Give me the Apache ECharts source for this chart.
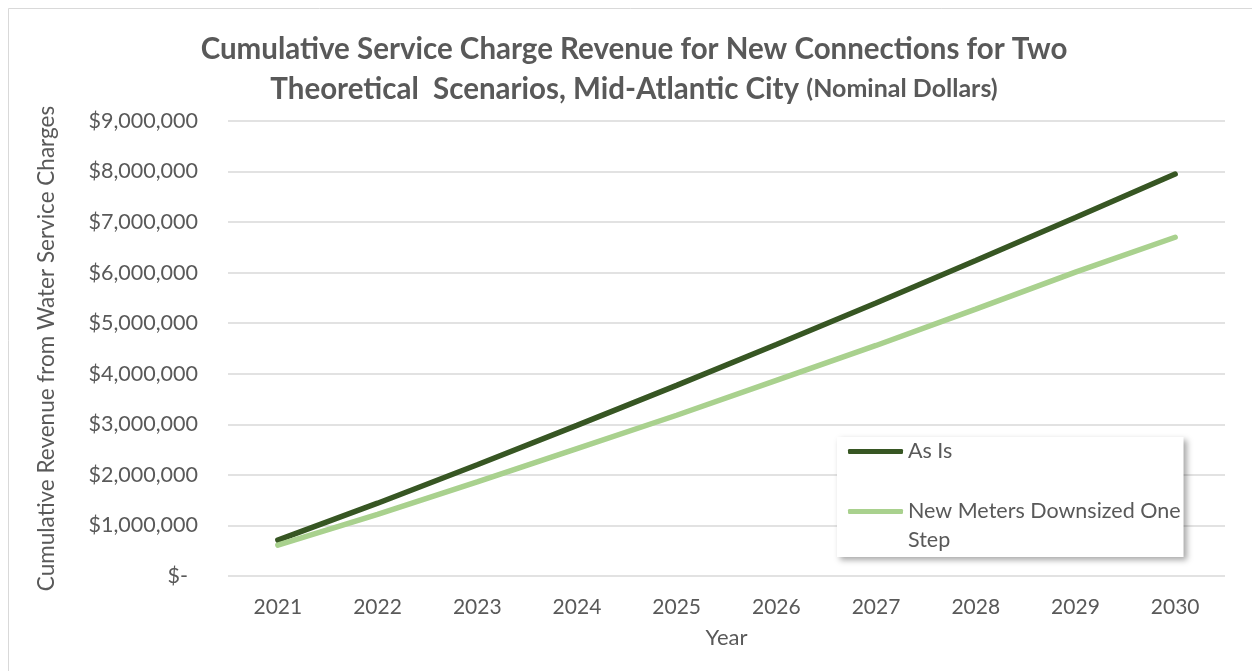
<!DOCTYPE html>
<html>
<head>
<meta charset="utf-8">
<script src="https://cdn.jsdelivr.net/npm/echarts@6/dist/echarts.min.js"></script>
<style>html,body{margin:0;padding:0;background:#fff}#c{width:1252px;height:671px}</style>
</head>
<body>
<div id="c"></div>
<script>
const years = ['2021','2022','2023','2024','2025','2026','2027','2028','2029','2030'];
const asIs = [710000,1440000,2200000,2980000,3770000,4580000,5400000,6240000,7090000,7950000];
const downsized = [610000,1220000,1860000,2520000,3180000,3870000,4560000,5280000,6010000,6700000];
const seriesNames = ['As Is','New Meters Downsized One Step'];

const FONT = 'Lato, "Open Sans", sans-serif';
const TXT = '#595959';
const chart = echarts.init(document.getElementById('c'), null, {renderer:'canvas'});
chart.setOption({
  animation:false,
  backgroundColor:'#fff',
  textStyle:{fontFamily:FONT},
  graphic:[{type:'rect',shape:{x:8.5,y:8.5,width:1300,height:700},style:{fill:null,stroke:'#d9d9d9',lineWidth:1},silent:true,z:-10}],
  title:{
    text:'{b|Cumulative Service Charge Revenue for New Connections for Two}\n{b|Theoretical  Scenarios, Mid-Atlantic City }{s|(Nominal Dollars)}',
    top:24, left:629, textAlign:'center',
    textStyle:{rich:{
      b:{fontFamily:FONT,fontSize:29.5,fontWeight:'bold',color:TXT,lineHeight:40},
      s:{fontFamily:FONT,fontSize:25,fontWeight:'bold',color:TXT,lineHeight:40}
    }}
  },
  grid:{left:228,right:27,top:121,bottom:95,containLabel:false},
  legend:{
    orient:'vertical', left:837, top:437,
    padding:[0,3,2,11], itemGap:2,
    itemWidth:55, itemHeight:5,
    backgroundColor:'#fff',
    shadowColor:'rgba(0,0,0,0.35)', shadowBlur:6, shadowOffsetX:3, shadowOffsetY:3,
    icon:'roundRect',
    formatter:function(n){return n==='As Is'?n:'\nNew Meters Downsized One\nStep';},
    textStyle:{color:TXT,fontFamily:FONT,fontSize:21.5,lineHeight:29},
    data:[seriesNames[0],seriesNames[1]]
  },
  xAxis:{
    type:'category', data:years, boundaryGap:true,
    name:'Year', nameLocation:'middle', nameGap:51,
    nameTextStyle:{color:TXT,fontSize:22,fontFamily:FONT},
    axisLine:{show:false}, axisTick:{show:false},
    axisLabel:{color:TXT,fontSize:21,fontFamily:FONT,margin:21}
  },
  yAxis:{
    type:'value', min:0, max:9000000, interval:1000000,
    name:'Cumulative Revenue from Water Service Charges', nameLocation:'middle', nameGap:170,
    nameTextStyle:{color:TXT,fontSize:22.5,fontFamily:FONT},
    axisLine:{show:false}, axisTick:{show:false},
    splitLine:{lineStyle:{color:'#d9d9d9',width:1.5}},
    axisLabel:{color:TXT,fontSize:21.5,fontFamily:FONT,margin:30,
      formatter:function(v){return v===0?'{z|$-}':'$'+v.toLocaleString('en-US');},
      rich:{z:{color:TXT,fontSize:21.5,fontFamily:FONT,padding:[0,10,0,0]}}}
  },
  series:[
    {name:seriesNames[0],type:'line',data:asIs,showSymbol:false,symbol:'none',
     lineStyle:{color:'#375623',width:5.5,cap:'round'},itemStyle:{color:'#375623'}},
    {name:seriesNames[1],type:'line',data:downsized,showSymbol:false,symbol:'none',
     lineStyle:{color:'#a9d18e',width:5.5,cap:'round'},itemStyle:{color:'#a9d18e'}}
  ]
});
</script>
</body>
</html>
